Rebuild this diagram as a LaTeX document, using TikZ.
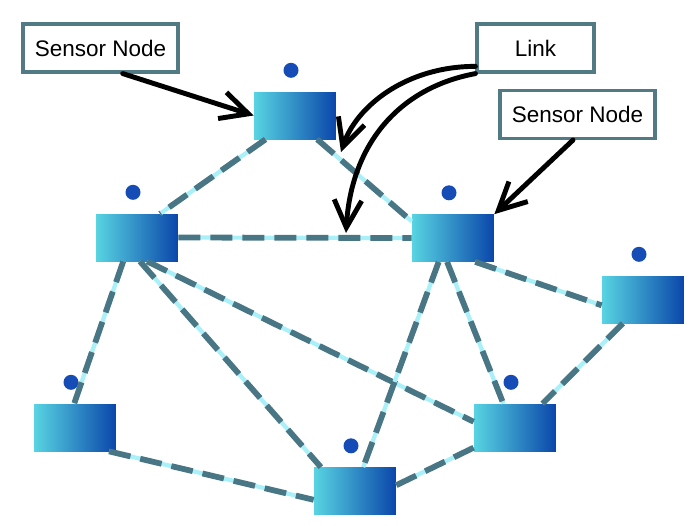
\documentclass[tikz,border=0pt]{standalone}
\usepackage{fontspec}
\setmainfont{Liberation Sans}
\usetikzlibrary{positioning,arrows.meta}

\definecolor{linkteal}{RGB}{72,118,133}
\definecolor{linkglow}{RGB}{170,240,248}
\definecolor{boxedge}{RGB}{82,122,132}
\definecolor{nodelight}{RGB}{88,212,226}
\definecolor{nodedark}{RGB}{10,70,170}
\definecolor{dotblue}{RGB}{22,76,182}

\tikzset{
  sensor/.style={minimum width=1.64cm, minimum height=0.94cm, inner sep=0pt,
    left color=nodelight, right color=nodedark},
  dot/.style={circle, fill=dotblue, minimum size=0.3cm, inner sep=0pt},
  link/.style={draw=linkteal, line width=3.3pt, dash pattern=on 0.44cm off 0.2cm,
    preaction={draw=linkglow, line width=2.4pt, solid}},
  lbl/.style={draw=boxedge, line width=1.8pt, fill=white, minimum height=0.96cm,
    font=\fontsize{12.8}{15}\selectfont},
  callout/.style={black, line width=2.8pt, line cap=round,
    -{Straight Barb[length=5.5mm,width=5.5mm]}},
}

\begin{document}
\begin{tikzpicture}[x=0.02cm, y=-0.02cm]
  \useasboundingbox (0,0) rectangle (700,525);

  % sensor nodes
  \node[sensor] (A) at (295,115.5) {};
  \node[sensor] (B) at (137,237.5) {};
  \node[sensor] (C) at (453,238) {};
  \node[sensor] (D) at (643,299.5) {};
  \node[sensor] (E) at (75,427.5) {};
  \node[sensor] (F) at (355,491) {};
  \node[sensor] (G) at (515,427.5) {};

  \node[dot, above=0.27cm of A, xshift=-0.08cm] (dA) {};
  \node[dot, above=0.27cm of B, xshift=-0.08cm] (dB) {};
  \node[dot, above=0.27cm of C, xshift=-0.08cm] (dC) {};
  \node[dot, above=0.27cm of D, xshift=-0.08cm] (dD) {};
  \node[dot, above=0.27cm of E, xshift=-0.08cm] (dE) {};
  \node[dot, above=0.27cm of F, xshift=-0.08cm] (dF) {};
  \node[dot, above=0.27cm of G, xshift=-0.08cm] (dG) {};

  % links
  \draw[link] (A.-141) -- (B.46);
  \draw[link] (A.-47) -- (C.158);
  \draw[link] (B.east) -- (C.west);
  \draw[link] (B.-120) -- (E.92);
  \draw[link] (B.-83) -- (F.145);
  \draw[link] (B.-67) -- (G.172);
  \draw[link] (C.-121) -- (F.71);
  \draw[link] (C.-104) -- (G.116);
  \draw[link] (C.-47) -- (D.-172);
  \draw[link] (D.-130) -- (G.41);
  \draw[link] (E.-35) -- (F.-168);
  \draw[link] (F.8) -- (G.-154);

  % labels
  \node[lbl, minimum width=3.1cm] (sn1) at (100.5,48) {Sensor Node};
  \node[lbl, minimum width=2.34cm] (lnk) at (535.5,48) {Link};
  \node[lbl, minimum width=3.1cm] (sn2) at (577.5,114.5) {Sensor Node};

  \coordinate (l1) at (341,152);
  \coordinate (l2) at (346,233);

  \draw[callout] (sn1.-49) -- (A.west);
  \draw[callout] (sn2.-100) -- (C.north east);
  \draw[callout] (lnk.-163) .. controls +(-70,0) and +(15,-45) .. (l1);
  \draw[callout] (lnk.south west) .. controls +(-80,15) and +(5,-85) .. (l2);
\end{tikzpicture}
\end{document}
